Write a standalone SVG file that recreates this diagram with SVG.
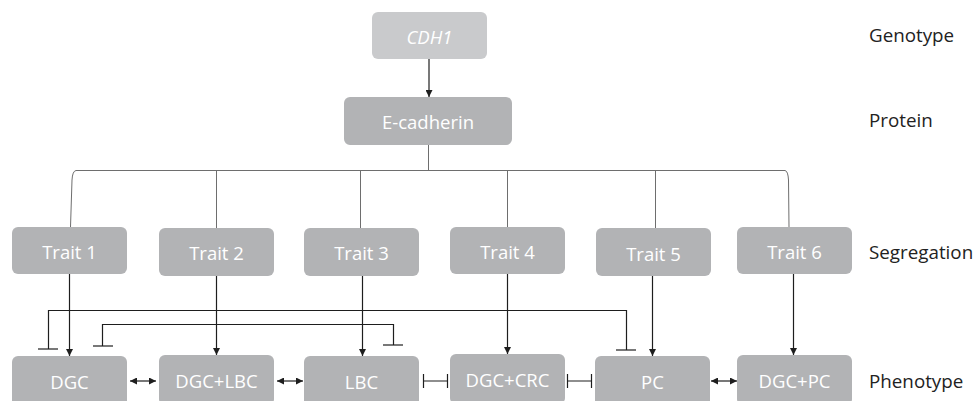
<svg xmlns="http://www.w3.org/2000/svg" width="975" height="401" viewBox="0 0 975 401">
<style>
.box{fill:#b2b3b5}
.gene{fill:#c9cacc}
.t{font-family:"Open Sans","Noto Sans",sans-serif;font-size:18.5px;fill:#ffffff;text-anchor:middle;dominant-baseline:central}
.lab{font-family:"Open Sans","Noto Sans",sans-serif;font-size:18.8px;fill:#222;dominant-baseline:central}
.tree{fill:none;stroke:#6e6e6e;stroke-width:1}
.c{fill:none;stroke:#1e1e1e;stroke-width:1.2}
</style>
<defs>
<marker id="ah" viewBox="0 0 10 10" refX="10" refY="5" markerWidth="7" markerHeight="7" markerUnits="userSpaceOnUse" orient="auto-start-reverse"><path d="M0,0 L10,5 L0,10 Z" fill="#1e1e1e"/></marker>
</defs>
<g id="connectors">
<line class="c" x1="429" y1="59" x2="429" y2="97" marker-end="url(#ah)"/>
<line class="tree" x1="428.5" y1="145" x2="428.5" y2="171"/>
<path class="tree" d="M76,170.5 L785,170.5 Q788,171 788.5,180 L789,227"/>
<path class="tree" d="M76,170.5 Q72.5,171 72,180 L70.5,227"/>
<line class="tree" x1="216.5" y1="170.5" x2="216.5" y2="228"/>
<line class="tree" x1="360.5" y1="170.5" x2="360.5" y2="228"/>
<line class="tree" x1="507.5" y1="170.5" x2="507.5" y2="227"/>
<line class="tree" x1="655.5" y1="170.5" x2="655.5" y2="228"/>
<line class="c" x1="69.5" y1="274" x2="69.5" y2="356" marker-end="url(#ah)"/>
<line class="c" x1="216.5" y1="276" x2="216.5" y2="355" marker-end="url(#ah)"/>
<line class="c" x1="362.5" y1="276" x2="362.5" y2="356" marker-end="url(#ah)"/>
<line class="c" x1="507.5" y1="274" x2="507.5" y2="354" marker-end="url(#ah)"/>
<line class="c" x1="652.5" y1="276" x2="652.5" y2="356" marker-end="url(#ah)"/>
<line class="c" x1="793.5" y1="274" x2="793.5" y2="355" marker-end="url(#ah)"/>
<path class="c" d="M48.5,349 L48.5,310.5 L626.5,310.5 L626.5,350"/>
<line class="c" x1="38" y1="349" x2="58" y2="349"/>
<line class="c" x1="616" y1="350" x2="636" y2="350"/>
<path class="c" d="M102.5,346 L102.5,324.5 L393.5,324.5 L393.5,345"/>
<line class="c" x1="93" y1="346" x2="113" y2="346"/>
<line class="c" x1="383" y1="345" x2="403" y2="345"/>
<line class="c" x1="130" y1="381" x2="156" y2="381" marker-start="url(#ah)" marker-end="url(#ah)"/>
<line class="c" x1="277" y1="381" x2="303" y2="381" marker-start="url(#ah)" marker-end="url(#ah)"/>
<line class="c" x1="711" y1="381" x2="737" y2="381" marker-start="url(#ah)" marker-end="url(#ah)"/>
<path class="c" d="M423.5,374 L423.5,388 M423.5,381 L447.5,381 M447.5,374 L447.5,388"/>
<path class="c" d="M567.5,374 L567.5,388 M567.5,381 L591.5,381 M591.5,374 L591.5,388"/>
</g>
<g id="cdh1"><rect class="gene" x="372" y="12" width="115" height="47" rx="6"/><text class="t" x="429.5" y="36" font-style="italic">CDH1</text></g>
<g id="ecadherin"><rect class="box" x="344" y="97" width="168" height="48" rx="6"/><text class="t" x="428" y="121">E-cadherin</text></g>
<g id="trait1"><rect class="box" x="12" y="227" width="115" height="47" rx="6"/><text class="t" x="69.5" y="251">Trait 1</text></g>
<g id="trait2"><rect class="box" x="159" y="228" width="115" height="48" rx="6"/><text class="t" x="216.5" y="252">Trait 2</text></g>
<g id="trait3"><rect class="box" x="304" y="228" width="115" height="48" rx="6"/><text class="t" x="361.5" y="252">Trait 3</text></g>
<g id="trait4"><rect class="box" x="450" y="227" width="115" height="47" rx="6"/><text class="t" x="507.5" y="251">Trait 4</text></g>
<g id="trait5"><rect class="box" x="596" y="228" width="115" height="48" rx="6"/><text class="t" x="653.5" y="253">Trait 5</text></g>
<g id="trait6"><rect class="box" x="737" y="227" width="115" height="47" rx="6"/><text class="t" x="794.5" y="251">Trait 6</text></g>
<g id="dgc"><rect class="box" x="12" y="356" width="115" height="50" rx="6"/><text class="t" x="69.5" y="381">DGC</text></g>
<g id="dgclbc"><rect class="box" x="159" y="355" width="115" height="50" rx="6"/><text class="t" x="216.5" y="380">DGC+LBC</text></g>
<g id="lbc"><rect class="box" x="304" y="356" width="115" height="50" rx="6"/><text class="t" x="361.5" y="381">LBC</text></g>
<g id="dgccrc"><rect class="box" x="450" y="354" width="115" height="50" rx="6"/><text class="t" x="507.5" y="379">DGC+CRC</text></g>
<g id="pc"><rect class="box" x="595" y="356" width="115" height="50" rx="6"/><text class="t" x="652.5" y="381">PC</text></g>
<g id="dgcpc"><rect class="box" x="737" y="355" width="115" height="50" rx="6"/><text class="t" x="794.5" y="380">DGC+PC</text></g>
<g id="labels">
<text class="lab" x="869" y="35">Genotype</text>
<text class="lab" x="869" y="120">Protein</text>
<text class="lab" x="869" y="252">Segregation</text>
<text class="lab" x="869" y="381">Phenotype</text>
</g>
</svg>
